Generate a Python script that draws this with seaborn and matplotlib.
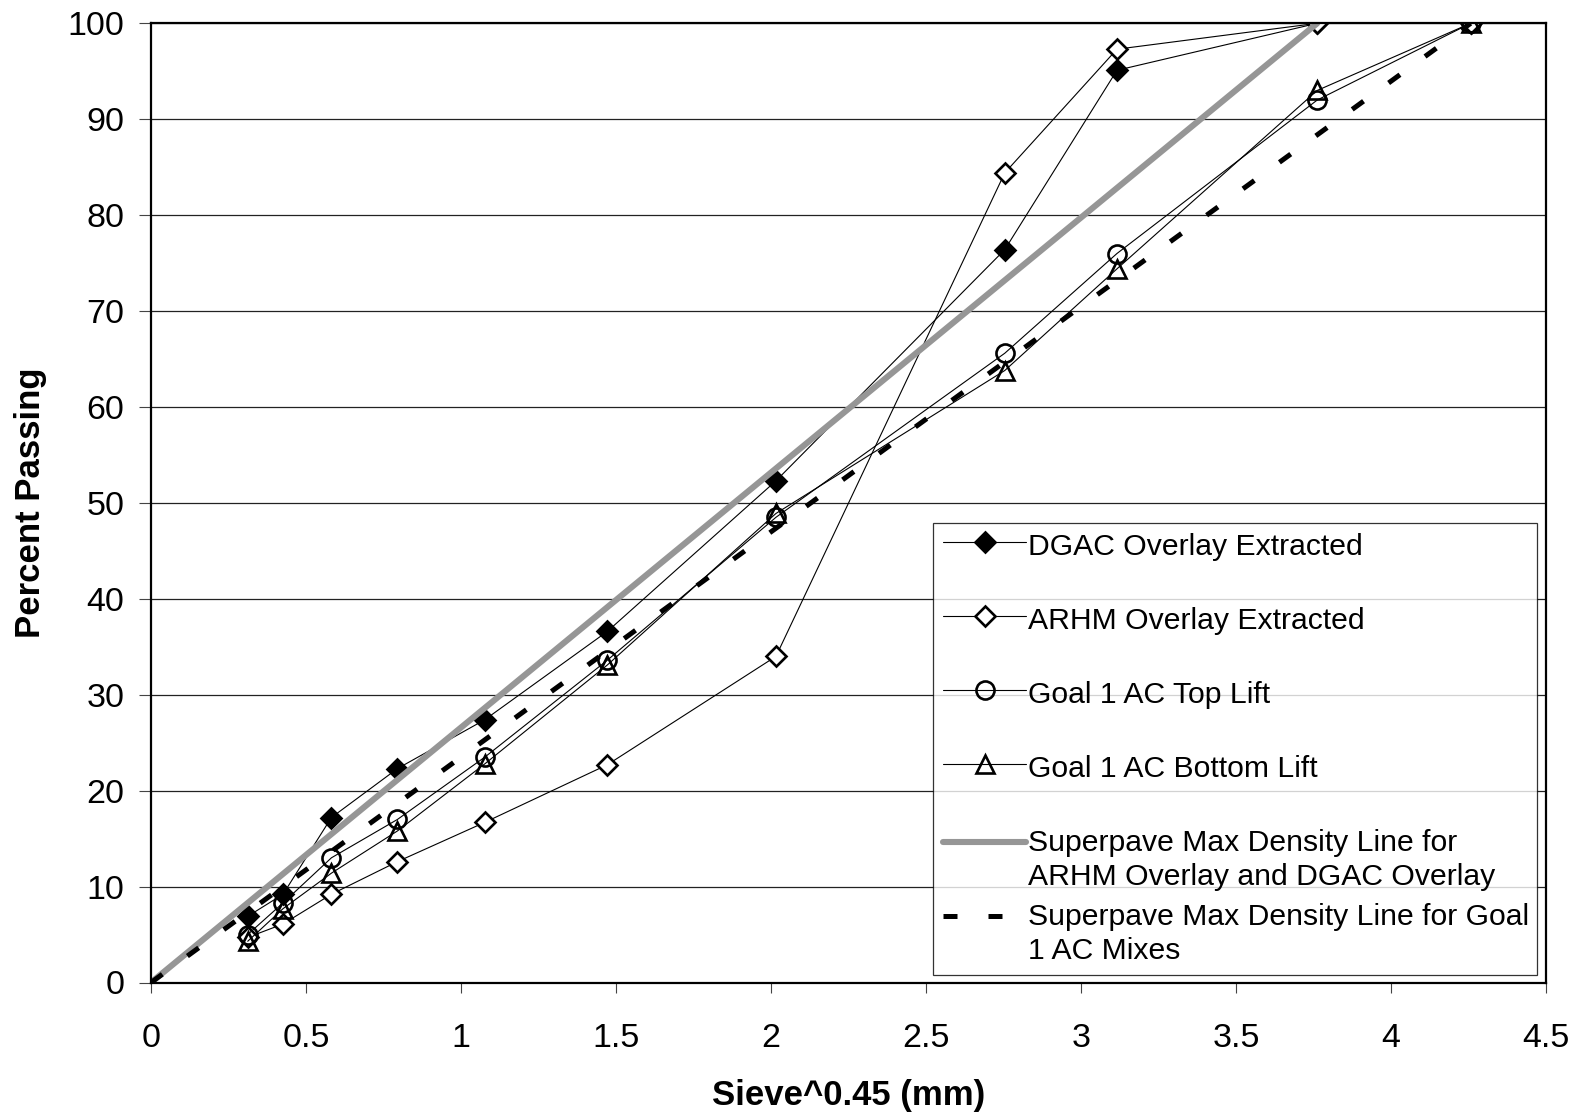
import matplotlib
matplotlib.use("Agg")
import matplotlib.pyplot as plt
import numpy as np
import pandas as pd
import seaborn as sns
from matplotlib.offsetbox import VPacker

# ---- data ----
sieve_x = [0.312, 0.426, 0.582, 0.795, 1.077, 1.472, 2.016, 2.754, 3.116, 3.762, 4.257]
dgac = [6.9, 9.2, 17.2, 22.3, 27.4, 36.6, 52.3, 76.4, 95.1, 100, 100]
arhm = [4.7, 6.1, 9.2, 12.6, 16.7, 22.7, 34.0, 84.4, 97.3, 100, 100]
goal_top = [5.0, 8.3, 13.0, 17.0, 23.5, 33.6, 48.5, 65.6, 76.0, 92.0, 100]
goal_bottom = [4.3, 7.7, 11.4, 15.8, 22.8, 33.1, 48.9, 63.8, 74.4, 93.0, 100]
maxd_overlay_x = [0, 3.762]
maxd_overlay_y = [0, 100]
maxd_goal_x = [0, 4.257]
maxd_goal_y = [0, 100]

labels = ["DGAC Overlay Extracted", "ARHM Overlay Extracted",
          "Goal 1 AC Top Lift", "Goal 1 AC Bottom Lift",
          "Superpave Max Density Line for\nARHM Overlay and DGAC Overlay",
          "Superpave Max Density Line for Goal\n1 AC Mixes"]
x_ticks = [0, 0.5, 1, 1.5, 2, 2.5, 3, 3.5, 4, 4.5]
y_ticks = [0, 10, 20, 30, 40, 50, 60, 70, 80, 90, 100]

sns.set_style("white")
plt.rcParams["font.family"] = ["Liberation Sans", "DejaVu Sans"]
plt.rcParams["text.color"] = "black"
plt.rcParams["axes.labelcolor"] = "black"
plt.rcParams["xtick.color"] = "black"
plt.rcParams["ytick.color"] = "black"

W, H = 1579, 1116
fig = plt.figure(figsize=(W / 100, H / 100), dpi=100)
ax = fig.add_axes([151 / W, 1 - 982.5 / H, (1546 - 151) / W, (982.5 - 23.3) / H])

common = dict(color="black", linewidth=0.8, markeredgecolor="black",
              markeredgewidth=1.9, errorbar=None, sort=False)
sns.lineplot(x=sieve_x, y=dgac, marker="D", markersize=10.5,
             markerfacecolor="black", ax=ax, **common)
sns.lineplot(x=sieve_x, y=arhm, marker="D", markersize=10.5,
             markerfacecolor="white", ax=ax, **common)
sns.lineplot(x=sieve_x, y=goal_top, marker="o", markersize=13,
             markerfacecolor="none", ax=ax, **common)
sns.lineplot(x=sieve_x, y=goal_bottom, marker="^", markersize=13.5,
             markerfacecolor="none", ax=ax, **common)
sns.lineplot(x=maxd_overlay_x, y=maxd_overlay_y, color="#969696",
             linewidth=4.4, errorbar=None, ax=ax)
sns.lineplot(x=maxd_goal_x, y=maxd_goal_y, color="black", linewidth=3.6,
             errorbar=None, ax=ax, linestyle=(0, (2.8, 6.2)),
             dash_capstyle="butt")

ax.set_xlim(0, 4.5)
ax.set_ylim(0, 100)
ax.set_xticks(x_ticks)
ax.set_xticklabels([f"{t:g}" for t in x_ticks])
ax.set_yticks(y_ticks)
ax.set_yticklabels([str(t) for t in y_ticks])
ax.yaxis.grid(True, color="#222222", linewidth=0.9)
ax.xaxis.grid(False)
ax.set_axisbelow(True)
for s in ax.spines.values():
    s.set_visible(True)
    s.set_color("black")
    s.set_linewidth(1.6)
ax.tick_params(axis="x", direction="out", length=7, width=0.8, color="#444444",
               labelsize=24.5, pad=22, bottom=True, labelcolor="black")
ax.tick_params(axis="y", direction="out", length=8.6, width=0.8, color="#444444",
               labelsize=24.5, pad=10.5, left=True, labelcolor="black")

ax.set_xlabel("Sieve^0.45 (mm)", fontsize=25, fontweight="bold", color="black")
ax.set_ylabel("Percent Passing", fontsize=25, fontweight="bold", color="black")
ax.xaxis.set_label_coords(0.5, -0.1005)
ax.yaxis.set_label_coords(-0.0746, 0.5)

handles = ax.get_lines()[:6]
leg = ax.legend(handles, labels, loc="upper left",
                bbox_to_anchor=(933 / W, 1 - 967 / H, 604 / W, 444 / H),
                bbox_transform=fig.transFigure, mode="expand",
                fontsize=21.7, frameon=True, fancybox=False, shadow=False,
                borderpad=0.22, labelspacing=1.42, handlelength=2.75,
                handletextpad=0.08, handleheight=1.15, borderaxespad=0,
                numpoints=1)
leg.get_frame().set_edgecolor("black")
leg.get_frame().set_linewidth(0.9)
for t in leg.get_texts():
    t.set_color("black")
for t in leg.get_texts()[4:6]:
    t.set_linespacing(1.28)

# tighten spacing between the last two (two-line) entries and put their
# handles next to the first text line
col = leg._legend_handle_box.get_children()[0]
items = col.get_children()
for it in items[4:6]:
    it.align = "top"
sub = VPacker(pad=2.5, sep=8.5, align="baseline", children=items[4:6])
col._children = items[:4] + [sub]

fig.savefig("out.png", dpi=100, facecolor="white")
